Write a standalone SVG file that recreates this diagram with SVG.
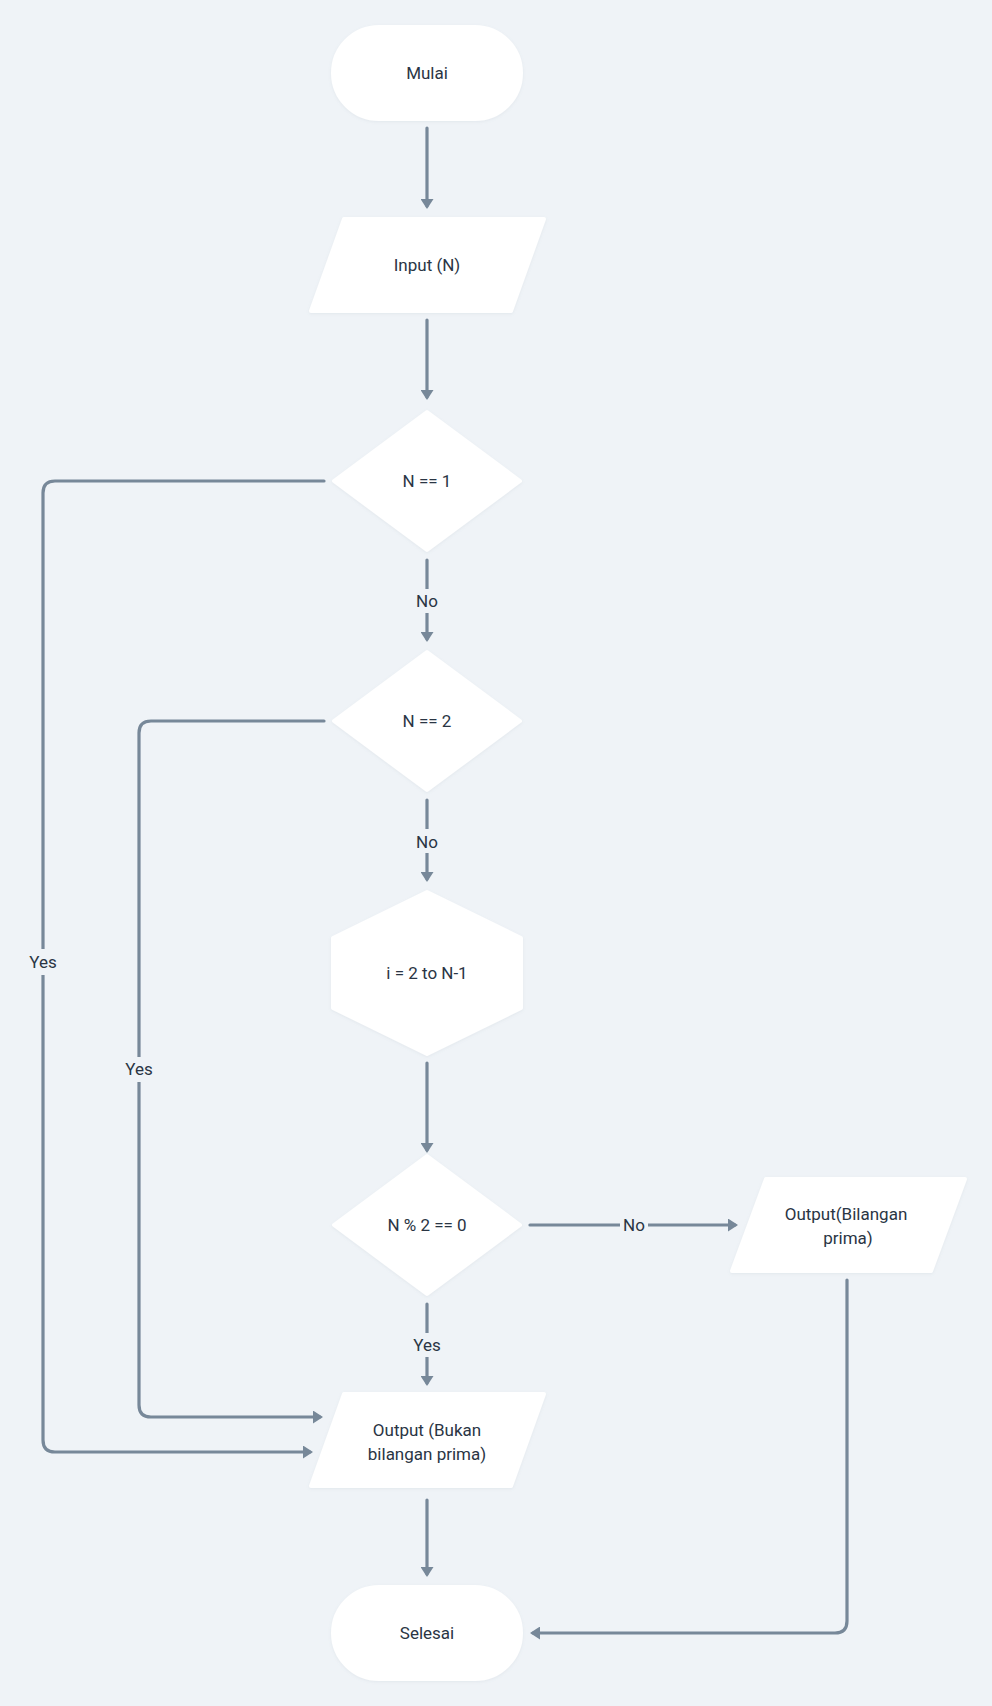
<svg xmlns="http://www.w3.org/2000/svg" width="992" height="1706" viewBox="0 0 992 1706">
  <style>
    .bg { fill: #eff3f7; }
    .node { fill: #ffffff; stroke: #ffffff; stroke-width: 4; stroke-linejoin: round; filter: url(#soft); }
    .label { font-family: Roboto, "Liberation Sans", sans-serif; font-size: 17px; fill: #2a3544; text-anchor: middle; dominant-baseline: central; }
    .edge { fill: none; stroke: #778899; stroke-width: 3.2; stroke-linecap: round; stroke-linejoin: round; }
    .arrow { marker-end: url(#head); }
    .gap { fill: #eff3f7; }
  </style>
  <defs>
    <filter id="soft" x="-10%" y="-10%" width="120%" height="130%">
      <feDropShadow dx="0" dy="1" stdDeviation="1.5" flood-color="#8090a0" flood-opacity="0.12"/>
    </filter>
    <marker id="head" viewBox="0 0 10 13" refX="7" refY="6.5" markerWidth="10" markerHeight="13" markerUnits="userSpaceOnUse" orient="auto">
      <path d="M0,0 L10,6.5 L0,13 z" fill="#778899"/>
    </marker>
  </defs>

  <rect class="bg" x="0" y="0" width="992" height="1706"/>

  <!-- connectors -->
  <g id="connectors">
    <path class="edge arrow" d="M427,128 L427,206"/>
    <path class="edge arrow" d="M427,320 L427,397"/>
    <path class="edge arrow" d="M427,560 L427,639"/>
    <path class="edge arrow" d="M324,481 L55,481 Q43,481 43,493 L43,1440 Q43,1452 55,1452 L310,1452"/>
    <path class="edge arrow" d="M427,800 L427,879"/>
    <path class="edge arrow" d="M324,721 L151,721 Q139,721 139,733 L139,1405 Q139,1417 151,1417 L320,1417"/>
    <path class="edge arrow" d="M427,1063 L427,1150"/>
    <path class="edge arrow" d="M427,1304 L427,1383"/>
    <path class="edge arrow" d="M530,1225 L735,1225"/>
    <path class="edge arrow" d="M427,1500 L427,1574"/>
    <path class="edge arrow" d="M847,1280 L847,1621 Q847,1633 835,1633 L533,1633"/>

    <!-- edge labels -->
    <rect class="gap" x="410" y="589" width="34" height="24"/>
    <text class="label" x="427" y="601">No</text>
    <rect class="gap" x="410" y="829" width="34" height="24"/>
    <text class="label" x="427" y="842">No</text>
    <rect class="gap" x="24" y="949" width="38" height="26"/>
    <text class="label" x="43" y="962">Yes</text>
    <rect class="gap" x="120" y="1057" width="38" height="25"/>
    <text class="label" x="139" y="1069">Yes</text>
    <rect class="gap" x="408" y="1333" width="38" height="24"/>
    <text class="label" x="427" y="1345">Yes</text>
    <rect class="gap" x="620" y="1213" width="28" height="24"/>
    <text class="label" x="634" y="1225">No</text>
  </g>

  <!-- nodes -->
  <g id="start">
    <rect class="node" x="333" y="27" width="188" height="92" rx="46"/>
    <text class="label" x="427" y="73">Mulai</text>
  </g>

  <g id="input">
    <polygon class="node" points="344,219 544,219 511,311 311,311"/>
    <text class="label" x="427" y="265">Input (N)</text>
  </g>

  <g id="check-one">
    <polygon class="node" points="427,412 520,481 427,550 334,481"/>
    <text class="label" x="427" y="481">N == 1</text>
  </g>

  <g id="check-two">
    <polygon class="node" points="427,652 520,721 427,790 334,721"/>
    <text class="label" x="427" y="721">N == 2</text>
  </g>

  <g id="loop">
    <polygon class="node" points="427,892 521,938 521,1008 427,1054 333,1008 333,938"/>
    <text class="label" x="427" y="973">i = 2 to N-1</text>
  </g>

  <g id="check-mod">
    <polygon class="node" points="427,1156 520,1225 427,1294 334,1225"/>
    <text class="label" x="427" y="1225">N % 2 == 0</text>
  </g>

  <g id="output-prime">
    <polygon class="node" points="766,1179 965,1179 931,1271 732,1271"/>
    <text class="label" x="846" y="1214">Output(Bilangan</text>
    <text class="label" x="848" y="1238">prima)</text>
  </g>

  <g id="output-not-prime">
    <polygon class="node" points="344,1394 544,1394 511,1486 311,1486"/>
    <text class="label" x="427" y="1430">Output (Bukan</text>
    <text class="label" x="427" y="1454">bilangan prima)</text>
  </g>

  <g id="end">
    <rect class="node" x="333" y="1587" width="188" height="92" rx="46"/>
    <text class="label" x="427" y="1633">Selesai</text>
  </g>
</svg>
